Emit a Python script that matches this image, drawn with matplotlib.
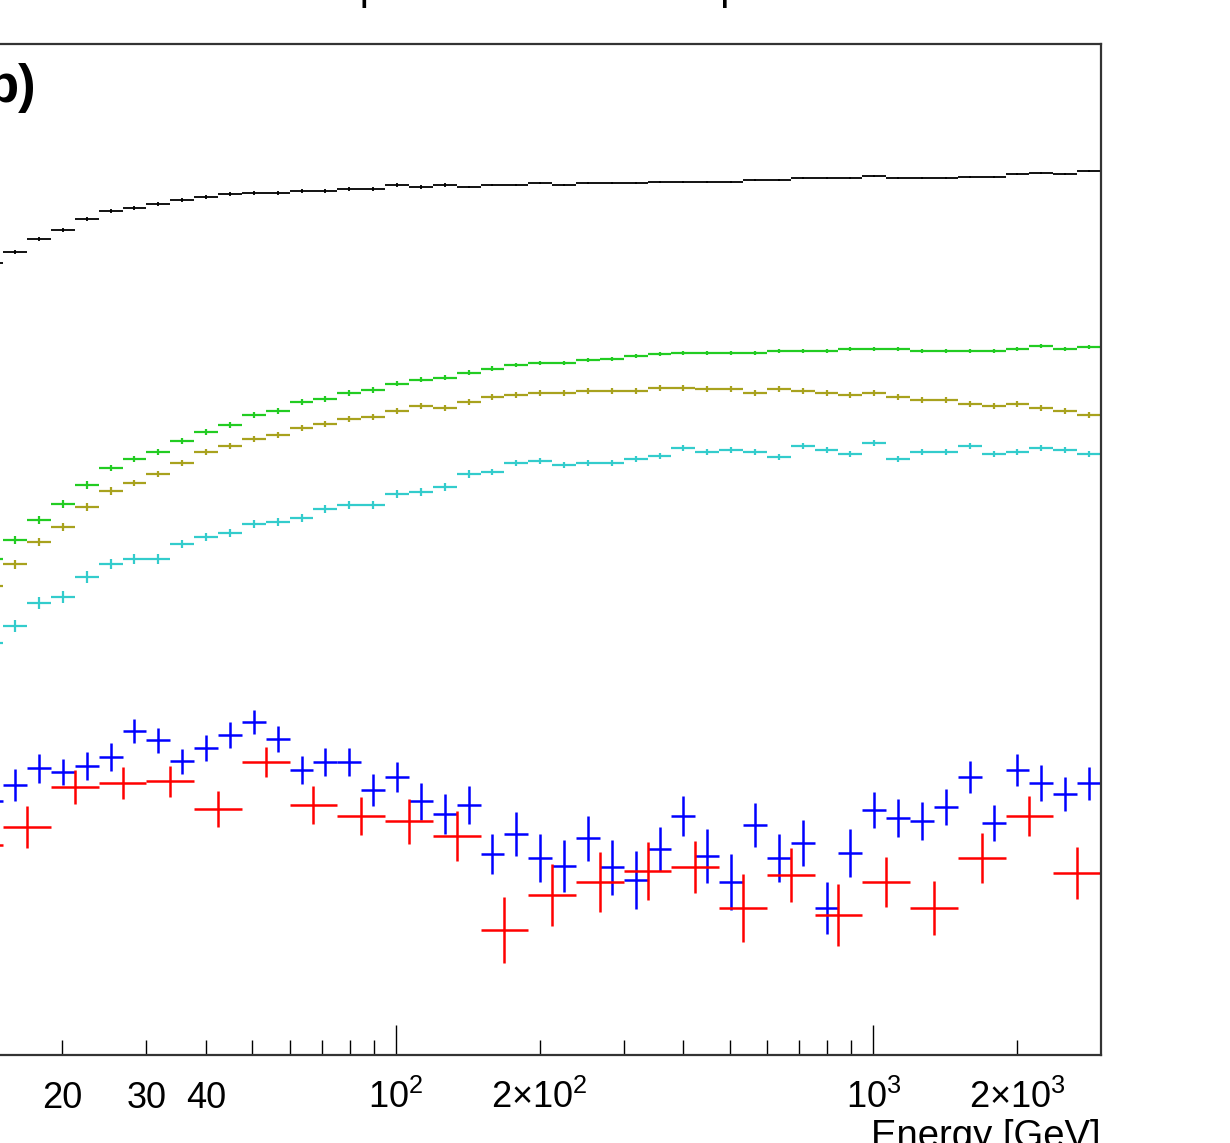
import numpy as np
import matplotlib.pyplot as plt

plt.rcParams['font.family'] = ['Liberation Sans', 'DejaVu Sans']
plt.rcParams['mathtext.fontset'] = 'custom'
plt.rcParams['mathtext.rm'] = 'Liberation Sans'
plt.rcParams['mathtext.it'] = 'Liberation Sans:italic'
plt.rcParams['mathtext.bf'] = 'Liberation Sans:bold'

# --------------------------------------------------
# Binning: 60 log bins 3 GeV - 3 TeV (red uses 30)
# only the part that is visible in the crop is kept
# --------------------------------------------------

fine_edges = np.logspace(np.log10(3), np.log10(3000), 61)[13:]
coarse_edges = np.logspace(np.log10(3), np.log10(3000), 31)[6:]

# --------------------------------------------------
# Data
# --------------------------------------------------

black_y = [0.792, 0.803, 0.816, 0.825, 0.836, 0.844, 0.847, 0.851, 0.855, 0.858,
           0.861, 0.862, 0.862, 0.864, 0.864, 0.866, 0.866, 0.870, 0.868, 0.870,
           0.868, 0.870, 0.870, 0.872, 0.870, 0.872, 0.872, 0.872, 0.873, 0.873,
           0.873, 0.873, 0.875, 0.875, 0.877, 0.877, 0.877, 0.879, 0.877, 0.877,
           0.877, 0.878, 0.878, 0.881, 0.882, 0.881, 0.884]
black_err = [0.002, 0.002, 0.002, 0.002, 0.002, 0.002, 0.002, 0.002, 0.002, 0.002,
             0.0018, 0.0018, 0.0018, 0.0018, 0.0018, 0.0018, 0.0018, 0.0018, 0.0018, 0.0018,
             0.0015, 0.0015, 0.0015, 0.0015, 0.0015, 0.0015, 0.0015, 0.0015, 0.0015, 0.0015,
             0.0015, 0.0015, 0.0015, 0.0015, 0.0015, 0.0015, 0.0015, 0.0015, 0.0015, 0.0015,
             0.0015, 0.0015, 0.0015, 0.0015, 0.0015, 0.0015, 0.0015]

green_y = [0.496, 0.515, 0.535, 0.551, 0.570, 0.587, 0.596, 0.603, 0.614, 0.623,
           0.630, 0.640, 0.644, 0.653, 0.656, 0.662, 0.665, 0.671, 0.675, 0.677,
           0.682, 0.686, 0.690, 0.692, 0.692, 0.695, 0.696, 0.699, 0.701, 0.702,
           0.702, 0.702, 0.702, 0.704, 0.704, 0.704, 0.706, 0.706, 0.706, 0.704,
           0.704, 0.704, 0.704, 0.706, 0.709, 0.706, 0.708]
green_err = [0.004, 0.004, 0.004, 0.004, 0.004, 0.0035, 0.0035, 0.0035, 0.003, 0.003,
             0.003, 0.003, 0.003, 0.0028, 0.0028, 0.0028, 0.0028, 0.0025, 0.0025, 0.0025,
             0.0025, 0.0025, 0.0025, 0.0025, 0.0025, 0.0025, 0.0025, 0.0025, 0.0025, 0.0025,
             0.0025, 0.0025, 0.0025, 0.0025, 0.0025, 0.0025, 0.0025, 0.0025, 0.0025, 0.0025,
             0.0025, 0.0025, 0.0025, 0.0025, 0.0025, 0.0025, 0.0025]

olive_y = [0.469, 0.491, 0.513, 0.528, 0.548, 0.564, 0.572, 0.581, 0.592, 0.603,
           0.609, 0.616, 0.620, 0.627, 0.631, 0.636, 0.638, 0.644, 0.649, 0.647,
           0.653, 0.658, 0.660, 0.662, 0.662, 0.664, 0.664, 0.664, 0.667, 0.667,
           0.666, 0.666, 0.662, 0.666, 0.664, 0.662, 0.660, 0.662, 0.658, 0.655,
           0.655, 0.651, 0.649, 0.651, 0.647, 0.644, 0.640]
olive_err = [0.0045, 0.0045, 0.0045, 0.0045, 0.004, 0.004, 0.0035, 0.0035, 0.0035, 0.0035,
             0.0032, 0.0032, 0.0032, 0.003, 0.003, 0.003, 0.003, 0.0028, 0.0028, 0.0028,
             0.0028, 0.0028, 0.0028, 0.0028, 0.0028, 0.0028, 0.0028, 0.0028, 0.0028, 0.0028,
             0.0028, 0.0028, 0.0028, 0.0028, 0.0028, 0.0028, 0.0028, 0.0028, 0.0028, 0.0028,
             0.0028, 0.0028, 0.0028, 0.0028, 0.0028, 0.0028, 0.0028]

cyan_y = [0.412, 0.429, 0.452, 0.458, 0.478, 0.491, 0.496, 0.496, 0.511, 0.518,
          0.522, 0.531, 0.533, 0.537, 0.546, 0.550, 0.550, 0.561, 0.563, 0.568,
          0.581, 0.583, 0.592, 0.594, 0.590, 0.592, 0.592, 0.596, 0.599, 0.607,
          0.603, 0.605, 0.603, 0.598, 0.609, 0.605, 0.601, 0.612, 0.596, 0.603,
          0.603, 0.609, 0.601, 0.603, 0.607, 0.605, 0.601]
cyan_err = [0.006, 0.006, 0.006, 0.006, 0.006, 0.005, 0.005, 0.005, 0.0045, 0.0045,
            0.0045, 0.004, 0.004, 0.004, 0.004, 0.004, 0.004, 0.004, 0.0038, 0.0038,
            0.0037, 0.0035, 0.0035, 0.0035, 0.0035, 0.0035, 0.0035, 0.0035, 0.0035, 0.0035,
            0.0035, 0.0035, 0.0035, 0.0035, 0.0035, 0.0035, 0.0035, 0.0035, 0.0035, 0.0035,
            0.0035, 0.0035, 0.0035, 0.0035, 0.0035, 0.0035, 0.0035]

blue_y = [0.254, 0.270, 0.287, 0.283, 0.289, 0.298, 0.324, 0.315, 0.294, 0.307,
          0.320, 0.333, 0.316, 0.285, 0.293, 0.293, 0.265, 0.278, 0.254, 0.241,
          0.250, 0.201, 0.221, 0.197, 0.189, 0.217, 0.188, 0.175, 0.206, 0.239,
          0.199, 0.173, 0.230, 0.197, 0.212, 0.147, 0.202, 0.245, 0.237, 0.234,
          0.248, 0.278, 0.232, 0.285, 0.272, 0.261, 0.272]
blue_err = [0.016, 0.016, 0.0145, 0.013, 0.014, 0.014, 0.012, 0.0125, 0.0125, 0.013,
            0.013, 0.012, 0.013, 0.014, 0.014, 0.014, 0.016, 0.015, 0.0185, 0.020,
            0.019, 0.020, 0.022, 0.024, 0.026, 0.0225, 0.0275, 0.029, 0.022, 0.020,
            0.027, 0.028, 0.022, 0.024, 0.023, 0.026, 0.024, 0.018, 0.019, 0.019,
            0.018, 0.016, 0.018, 0.016, 0.018, 0.017, 0.0165]

red_y = [0.210, 0.228, 0.268, 0.272, 0.274, 0.246, 0.293, 0.250, 0.239, 0.234,
         0.219, 0.125, 0.160, 0.173, 0.184, 0.188, 0.147, 0.180, 0.140, 0.173,
         0.147, 0.197, 0.239, 0.182]
red_err = [0.021, 0.021, 0.0167, 0.0163, 0.0155, 0.0177, 0.0147, 0.0187, 0.0187, 0.0225,
           0.025, 0.033, 0.031, 0.030, 0.0287, 0.026, 0.034, 0.027, 0.031, 0.025,
           0.027, 0.025, 0.020, 0.026]

minor_ticks = [20, 30, 40, 50, 60, 70, 80, 90,
               200, 300, 400, 500, 600, 700, 800, 900, 2000]
minor_labels = ['20', '30', '40', '', '', '', '', '',
                r'$2{\times}10^{2}$', '', '', '', '', '', '', '', r'$2{\times}10^{3}$']
major_ticks = [100, 1000]
major_labels = [r'$10^{2}$', r'$10^{3}$']

# --------------------------------------------------
# Plot
# --------------------------------------------------

W, H = 1230, 1143
fig = plt.figure(figsize=(W / 100, H / 100), dpi=100)

# the axes frame runs past the left edge of the picture
x0, x1, y_top, y_bot = -81.3, 1101, 44, 1055
ax = fig.add_axes([x0 / W, 1 - y_bot / H, (x1 - x0) / W, (y_bot - y_top) / H])


def draw_series(edges, y, err, color, lw):
    lo = edges[:-1]
    hi = edges[1:]
    xc = np.sqrt(lo * hi)
    ax.errorbar(xc, y, xerr=[xc - lo, hi - xc], yerr=err, fmt='none',
                ecolor=color, elinewidth=lw, capsize=0)


draw_series(fine_edges, black_y, black_err, 'black', 1.3)
draw_series(fine_edges, green_y, green_err, '#22cc22', 1.6)
draw_series(fine_edges, olive_y, olive_err, '#a8a21e', 1.6)
draw_series(fine_edges, cyan_y, cyan_err, '#33cccc', 1.6)
draw_series(fine_edges, blue_y, blue_err, '#0000ff', 1.8)
draw_series(coarse_edges, red_y, red_err, '#ff0000', 1.8)

ax.set_xscale('log')
ax.set_xlim(10, 3000)
ax.set_ylim(0, 1.011)

ax.set_xticks(major_ticks, major_labels)
ax.set_xticks(minor_ticks, minor_labels, minor=True)
ax.set_yticks([])
ax.tick_params(axis='x', which='both', direction='in', labelsize=26,
               pad=38, width=1.0, color='black')
ax.tick_params(axis='x', which='major', length=21.6)
ax.tick_params(axis='x', which='minor', length=10.8)
for lab in ax.get_xticklabels(which='both'):
    lab.set_verticalalignment('baseline')

for sp in ax.spines.values():
    sp.set_linewidth(1.6)
    sp.set_color('#333333')

fig.text(1101 / W, 1 - 1147 / H, 'Energy [GeV]', fontsize=27.5,
         ha='right', va='baseline')
fig.text(36 / W, 1 - 102 / H, 'b)', fontsize=38, fontweight='bold',
         ha='right', va='baseline')
fig.text(-43 / W, 1 + 1 / H, 'Survival fraction after proton selection steps',
         fontsize=30, ha='left', va='baseline')

fig.savefig('out.png', dpi=100)
